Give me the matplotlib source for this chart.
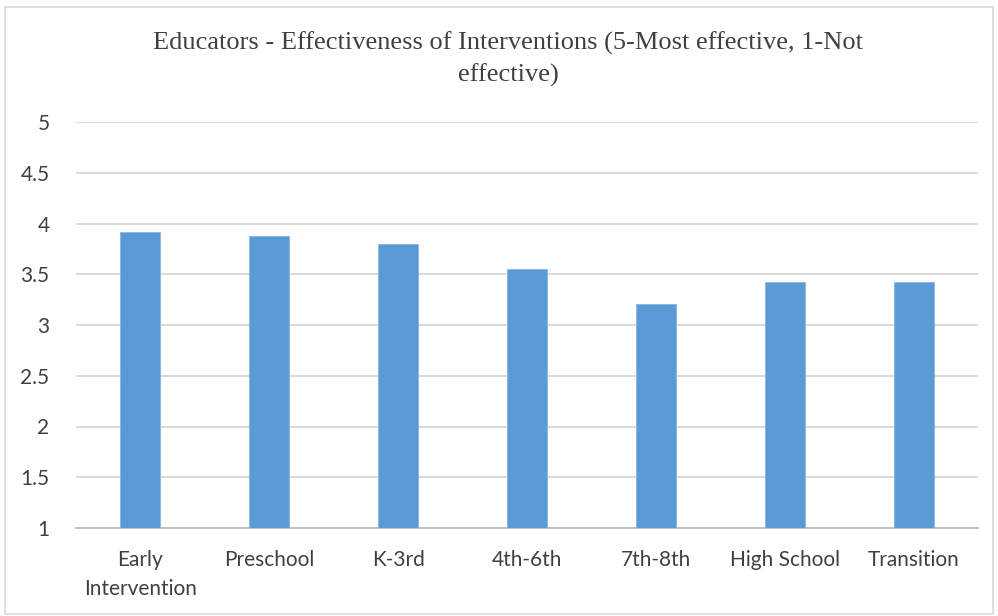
import matplotlib.pyplot as plt
from matplotlib.patches import Rectangle

categories = ["Early\nIntervention", "Preschool", "K-3rd", "4th-6th", "7th-8th", "High School", "Transition"]
scores = [3.92, 3.88, 3.80, 3.55, 3.21, 3.42, 3.42]
yticks = [1, 1.5, 2, 2.5, 3, 3.5, 4, 4.5, 5]
ytick_labels = ["1", "1.5", "2", "2.5", "3", "3.5", "4", "4.5", "5"]

fig = plt.figure(figsize=(9.98, 6.16), dpi=100)
ax = fig.add_axes([76 / 998, 1 - 528 / 616, (978 - 76) / 998, (528 - 122) / 616])

# chart border
fig.patches.append(Rectangle((5 / 998, 2 / 616), 988 / 998, 607 / 616, transform=fig.transFigure,
                             fill=False, edgecolor="#D9D9D9", linewidth=1.2))

x = range(len(categories))
ax.bar(x, [s - 1 for s in scores], bottom=1, width=0.31, color="#5B9BD5",
       edgecolor="#8AB6E3", linewidth=0.6, zorder=3)

ax.set_ylim(1, 5)
ax.set_xlim(-0.5, len(categories) - 0.5)
ax.set_yticks(yticks)
ax.set_yticklabels(ytick_labels, fontsize=15, family="Lato", color="#404040")
ax.set_xticks(list(x))
ax.set_xticklabels(categories, fontsize=15, family="Lato", color="#404040", linespacing=1.55)
ax.tick_params(axis="both", length=0)
ax.tick_params(axis="y", pad=19)
ax.tick_params(axis="x", pad=16)

ax.grid(axis="y", color="#D9D9D9", linewidth=1.4, zorder=0)
for side in ["top", "right", "left"]:
    ax.spines[side].set_visible(False)
ax.spines["bottom"].set_color("#BFBFBF")
ax.spines["bottom"].set_linewidth(1.4)

fig.text(508 / 998, 1 - 43 / 616, "Educators - Effectiveness of Interventions (5-Most effective, 1-Not",
         ha="center", va="center", fontsize=19, family="Liberation Serif", color="#404040")
fig.text(508 / 998, 1 - 75 / 616, "effective)",
         ha="center", va="center", fontsize=19, family="Liberation Serif", color="#404040")

fig.savefig("out.png", dpi=100)
